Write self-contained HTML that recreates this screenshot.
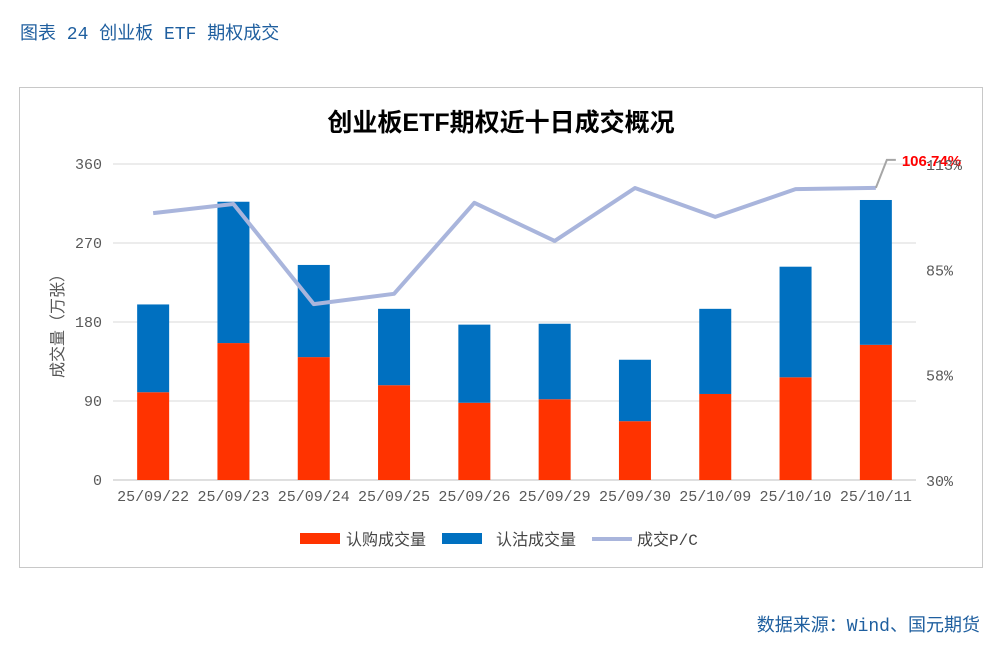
<!DOCTYPE html>
<html><head><meta charset="utf-8"><style>
body{margin:0;width:1002px;height:656px;background:#fff;overflow:hidden;font-family:"Liberation Sans","Noto Sans CJK SC",sans-serif;}
.m{font-family:"Liberation Mono","Noto Sans CJK SC",monospace;}
</style></head><body>
<svg id="c" width="1002" height="656" xmlns="http://www.w3.org/2000/svg">
<text class="m" x="20" y="39" font-size="18" fill="#1f5f9f">图表 24 创业板 ETF 期权成交</text>
<rect x="19.5" y="87.5" width="963" height="480" fill="#fff" stroke="#c8c8c8"/>
<text x="501" y="131" font-size="25" font-weight="bold" text-anchor="middle" fill="#000" font-family="Liberation Sans,Noto Sans CJK SC,sans-serif">创业板ETF期权近十日成交概况</text>
<g id="grid"></g><g id="bars"></g><g id="line"></g><g id="axes"></g>
<text class="m" transform="translate(63,322) rotate(-90)" font-size="16" text-anchor="middle" fill="#555">成交量（万张）</text>
<g class="m" font-size="16" fill="#444">
<rect x="300" y="533" width="40" height="11" fill="#ff3300"/>
<text x="346" y="545">认购成交量</text>
<rect x="442" y="533" width="40" height="11" fill="#0070c0"/>
<text x="496" y="545">认沽成交量</text>
<line x1="592" y1="539" x2="632" y2="539" stroke="#a9b5dc" stroke-width="4"/>
<text x="637" y="545">成交P/C</text>
</g>
<text class="m" x="980" y="631" font-size="18" text-anchor="end" fill="#1f5f9f">数据来源：Wind、国元期货</text>
</svg>
<script>
const categories=["25/09/22","25/09/23","25/09/24","25/09/25","25/09/26","25/09/29","25/09/30","25/10/09","25/10/10","25/10/11"];
const callVol=[100,156,140,108,88,92,67,98,117,154];
const putVol=[100,161,105,87,89,86,70,97,126,165];
const pcRatio=[100.1,102.5,76.2,78.9,102.8,92.8,106.7,99.1,106.4,106.74];
const leftTicks=[0,90,180,270,360];
const rightTicks=[30,57.5,85,112.5];
const rightTickLabels=["30%","58%","85%","113%"];
const NS="http://www.w3.org/2000/svg";
const X0=113,X1=916,Y0=480,Y1=164;
const band=(X1-X0)/categories.length;
const xc=i=>X0+band*(i+0.5);
const yL=v=>Y0-(v/360)*(Y0-Y1);
const yR=v=>Y0-((v-30)/(113-30))*(Y0-Y1);
function mk(t,a,p){const e=document.createElementNS(NS,t);for(const k in a)e.setAttribute(k,a[k]);p.appendChild(e);return e;}
const grid=document.getElementById('grid'),bars=document.getElementById('bars'),line=document.getElementById('line'),axes=document.getElementById('axes');
leftTicks.forEach(v=>{
 const l=mk('line',{x1:X0,x2:X1,y1:yL(v),y2:yL(v),stroke:v===0?'#bfbfbf':'#d9d9d9','stroke-width':1},grid);
 
 
 const t=mk('text',{x:102,y:yL(v)+5,'font-size':15,'text-anchor':'end',fill:'#595959',class:'m'},axes);
 t.textContent=v;
 
 
});
rightTicks.forEach((v,i)=>{
 const t=mk('text',{x:926,y:Y0-((v-30)/(112.5-30))*(Y0-Y1)+6,'font-size':15,fill:'#595959',class:'m'},axes);
 t.textContent=rightTickLabels[i];
 
 
});
categories.forEach((c,i)=>{
 const w=32,x=xc(i)-w/2;
 const r=mk('rect',{x:x,y:yL(callVol[i]),width:w,height:Y0-yL(callVol[i]),fill:'#ff3300'},bars);
 
 
 const tot=callVol[i]+putVol[i];
 const b=mk('rect',{x:x,y:yL(tot),width:w,height:yL(callVol[i])-yL(tot),fill:'#0070c0'},bars);
 
 
 const t=mk('text',{x:xc(i),y:501,'font-size':15,'text-anchor':'middle',fill:'#595959',class:'m'},axes);
 t.textContent=c;
 
 
});
const pts=pcRatio.map((v,i)=>xc(i)+','+yR(v)).join(' ');
const pl=mk('polyline',{points:pts,fill:'none',stroke:'#a9b5dc','stroke-width':4,'stroke-linejoin':'round'},line);


const n=pcRatio.length-1,lx=xc(n),ly=yR(pcRatio[n]);
const cl=mk('polyline',{points:`${lx},${ly} ${lx+11},${ly-28} ${lx+20},${ly-28}`,fill:'none',stroke:'#a6a6a6','stroke-width':2},line);


const lab=mk('text',{x:lx+26,y:ly-22,'font-size':15,'font-weight':'bold',fill:'#ff0000'},line);
lab.textContent=pcRatio[n].toFixed(2)+'%';


</script>
</body></html>
